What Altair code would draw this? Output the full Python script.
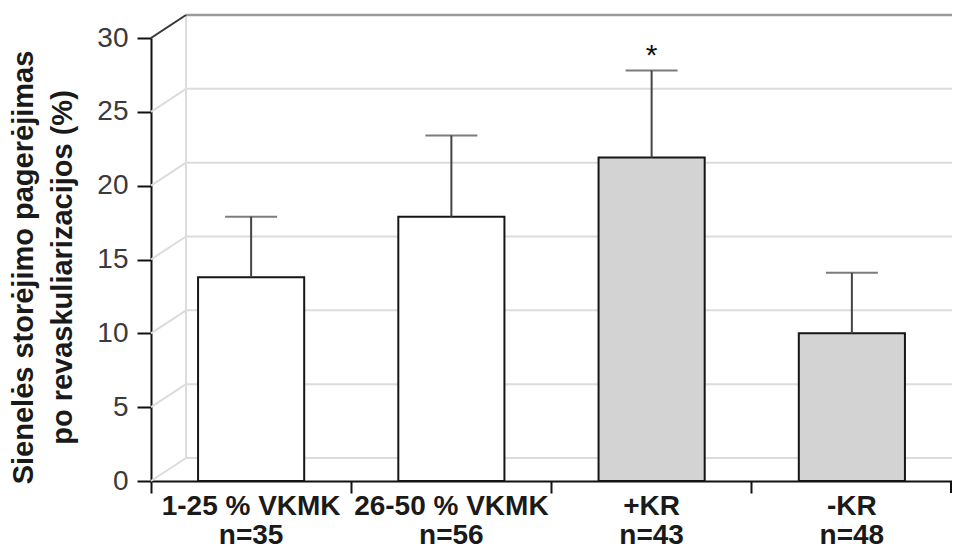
import altair as alt
import pandas as pd

# ---- data ----
groups = ["1-25 % VKMK", "26-50 % VKMK", "+KR", "-KR"]
counts = ["n=35", "n=56", "n=43", "n=48"]
means = [13.8, 17.9, 21.9, 10.0]
upper = [17.9, 23.4, 27.8, 14.1]
fills = ["#ffffff", "#ffffff", "#d3d3d3", "#d3d3d3"]
signif = ["", "", "*", ""]
y_ticks = [0, 5, 10, 15, 20, 25, 30]
back_levels = [0, 5, 10, 15, 20, 25]
top_level = [30]
y_title = ["Sienelės storėjimo pagerėjimas", "po revaskuliarizacijos (%)"]

# ---- layout ----
W, H = 801, 443
DX, DY = 35, -23
FONT = "Liberation Sans"

df = pd.DataFrame({
    "group": groups,
    "label": [g + "\n" + n for g, n in zip(groups, counts)],
    "mean": means,
    "upper": upper,
    "fill": fills,
    "sig": signif,
})
grid = pd.DataFrame({"v": back_levels})
top = pd.DataFrame({"v": top_level, "zero": [0]})

xs = alt.Scale(domain=groups, paddingInner=0, paddingOuter=0)
ys = alt.Scale(domain=[0, 30], nice=False, zero=True)


def xenc():
    return alt.X("group:N", scale=xs, sort=groups)


def yv(field):
    return alt.Y(field, scale=ys)


back_grid = alt.Chart(grid).mark_rule(color="#dcdcdc", strokeWidth=2, yOffset=DY).encode(
    y=yv("v:Q"), x=alt.value(DX), x2=alt.value(W)
)
back_diag = alt.Chart(grid).mark_rule(color="#dcdcdc", strokeWidth=2, y2Offset=DY).encode(
    y=yv("v:Q"), y2=alt.Y2("v"), x=alt.value(0), x2=alt.value(DX)
)
back_vert = alt.Chart(top).mark_rule(color="#dcdcdc", strokeWidth=2, yOffset=DY, y2Offset=DY).encode(
    y=yv("zero:Q"), y2=alt.Y2("v"), x=alt.value(DX)
)
top_line = alt.Chart(top).mark_rule(color="#9a9a9a", strokeWidth=2.5, yOffset=DY).encode(
    y=yv("v:Q"), x=alt.value(DX), x2=alt.value(W)
)
top_diag = alt.Chart(top).mark_rule(color="#333333", strokeWidth=2, y2Offset=DY).encode(
    y=yv("v:Q"), y2=alt.Y2("v"), x=alt.value(0), x2=alt.value(DX)
)

yaxis = alt.Axis(
    values=y_ticks, title=y_title, grid=False,
    titleFont=FONT, titleFontSize=29, titleFontWeight="bold", titleColor="#1a1a1a",
    titleAngle=-90, titleAlign="center", titleBaseline="middle", titleLineHeight=39,
    titleX=-128, titleY=229,
    labelFont=FONT, labelFontSize=28, labelColor="#3a3a3a", labelPadding=9,
    tickSize=14, tickColor="#111111", tickWidth=2,
    domainColor="#111111", domainWidth=2,
)
xaxis = alt.Axis(
    title=None, labels=False, bandPosition=0, tickSize=12, tickColor="#111111",
    tickWidth=2, domainColor="#111111", domainWidth=2, grid=False,
)

bars = alt.Chart(df).mark_bar(width={"band": 0.53}, stroke="#151515", strokeWidth=2).encode(
    x=alt.X("group:N", scale=xs, sort=groups, axis=xaxis),
    y=alt.Y("mean:Q", scale=ys, axis=yaxis),
    fill=alt.Fill("fill:N", scale=None),
)
err = alt.Chart(df).mark_rule(color="#444444", strokeWidth=2).encode(
    x=xenc(), y=yv("mean:Q"), y2=alt.Y2("upper")
)
caps = alt.Chart(df).mark_tick(color="#444444", thickness=2, size=52, orient="horizontal").encode(
    x=xenc(), y=yv("upper:Q")
)
star = alt.Chart(df).mark_text(font=FONT, fontSize=30, baseline="alphabetic", dy=-5, color="#111111").encode(
    x=xenc(), y=yv("upper:Q"), text="sig:N"
)
xlabels = alt.Chart(df).mark_text(
    font=FONT, fontSize=28, fontWeight="bold", lineBreak="\n", lineHeight=29,
    baseline="top", color="#1a1a1a"
).encode(x=xenc(), y=alt.value(H + 12), text="label:N")
last_tick = alt.Chart(top).mark_rule(color="#111111", strokeWidth=2).encode(
    x=alt.value(W - 1), y=alt.value(H), y2=alt.value(H + 12)
)

chart = alt.layer(
    back_grid, back_diag, back_vert, top_line, top_diag,
    bars, err, caps, star, xlabels, last_tick,
).properties(
    width=W, height=H,
    autosize=alt.AutoSizeParams(type="none"),
    padding={"left": 143, "top": 30, "right": 0, "bottom": 68},
    background="white",
).configure_view(stroke=None)

chart.save("out.html", embed_options={"renderer": "svg", "actions": False})
